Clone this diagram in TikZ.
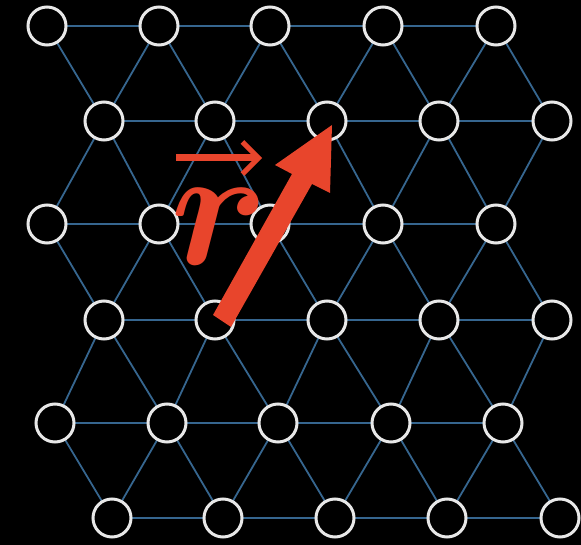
\documentclass[tikz,border=0pt]{standalone}
\usepackage{bm}
\usetikzlibrary{arrows.meta}
\definecolor{latline}{HTML}{36668F}
\definecolor{arrred}{HTML}{E8452C}
\definecolor{ringcol}{HTML}{E8E8E8}
\begin{document}
\begin{tikzpicture}[x=1pt,y=-1pt,
  site/.style={circle,draw=ringcol,line width=3pt,fill=black,minimum size=38pt,inner sep=0pt},
  bond/.style={draw=latline,line width=1.8pt}]
\fill[black] (0,0) rectangle (581,545);
\useasboundingbox (0,0) rectangle (581,545);
% lattice sites
\foreach \yy/\xs [count=\r from 0] in {26/{47,159,270,383,496},121/{104,215,327,439,552},224/{47,159,270,383,496},320/{104,215,327,439,552},423/{55,167,278,391,503},518/{112,223,335,447,560}}{
  \foreach \xx [count=\i from 0] in \xs {
    \coordinate (c-\r-\i) at (\xx,\yy);
  }
}
% horizontal bonds
\foreach \r in {0,...,5}{
  \foreach \i in {0,...,3}{
    \pgfmathtruncatemacro\j{\i+1}
    \draw[bond] (c-\r-\i) -- (c-\r-\j);
  }
}
% diagonal bonds
\foreach \r in {0,2,4}{
  \pgfmathtruncatemacro\s{\r+1}
  \foreach \i in {0,...,4}{\draw[bond] (c-\r-\i) -- (c-\s-\i);}
  \foreach \i in {1,...,4}{\pgfmathtruncatemacro\j{\i-1}\draw[bond] (c-\r-\i) -- (c-\s-\j);}
}
\foreach \r in {1,3}{
  \pgfmathtruncatemacro\s{\r+1}
  \foreach \i in {0,...,4}{\draw[bond] (c-\r-\i) -- (c-\s-\i);}
  \foreach \i in {0,...,3}{\pgfmathtruncatemacro\j{\i+1}\draw[bond] (c-\r-\i) -- (c-\s-\j);}
}
% site circles
\foreach \r in {0,...,5}{
  \foreach \i in {0,...,4}{
    \node[site] (n-\r-\i) at (c-\r-\i) {};
  }
}
% position vector arrow
\fill[arrred] (213,315) -- (292,174) -- (275,165) -- (332,125) -- (330,193) -- (312,184) -- (231,327) -- cycle;
% label r with vector arrow
\node[text=arrred,inner sep=0pt] (rlabel) at (220,227) {\scalebox{17.5}[17]{$\bm{r}$}};
\coordinate (va) at (176,158);
\coordinate (vb) at (262,158);
\draw[arrred,line width=7pt,-{Straight Barb[length=16pt,width=32pt,line width=5pt]}] (va) -- (vb);
\end{tikzpicture}
\end{document}
